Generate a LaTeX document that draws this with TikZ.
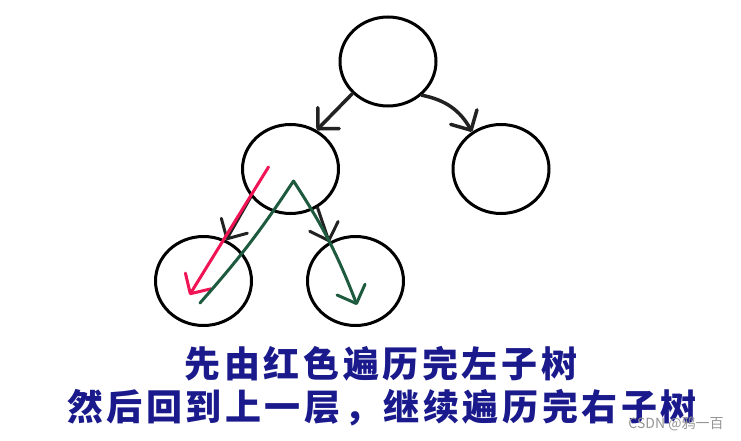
\documentclass[tikz,border=0pt]{standalone}
\usepackage{fontspec}
\newfontfamily\cjk{Noto Sans CJK SC}
\usetikzlibrary{shapes.geometric,arrows.meta,calc}
\definecolor{txtblue}{RGB}{26,26,140}
\definecolor{redpen}{RGB}{240,20,85}
\definecolor{greenpen}{RGB}{30,90,62}
\definecolor{blackpen}{RGB}{34,34,34}
\definecolor{wmgrey}{RGB}{150,150,150}
\begin{document}
\begin{tikzpicture}[x=1pt,y=-1pt,
  treenode/.style={ellipse, draw=black, line width=3pt, minimum width=96pt, minimum height=89pt, inner sep=0pt},
  pen/.style={line width=3pt, line cap=round, line join=round},
  barb/.style={-{Straight Barb[length=15pt,width=30pt,line cap=round,line join=round]}},
  caption/.style={font=\cjk\bfseries\fontsize{36}{42}\selectfont\addfontfeatures{LetterSpace=10}, text=txtblue, inner sep=0pt},
  watermark/.style={font=\cjk\fontsize{14}{16}\selectfont, text=wmgrey, inner sep=0pt}
]
\fill[white] (0,0) rectangle (741,441);
\useasboundingbox (0,0) rectangle (741,441);

\node[treenode] (root) at (388,61.5) {};
\node[treenode] (lc) at (290.5,169) {};
\node[treenode] (rc) at (501,169) {};
\node[treenode] (ll) at (203.5,281) {};
\node[treenode] (lr) at (355.5,281) {};

% black arrows
\draw[pen, blackpen, line width=3.5pt, barb] (root.222) -- (lc.56);
\draw[pen, blackpen, line width=3.5pt, barb] (root.-45) to[bend left=25] (rc.128);
\draw[pen, blackpen, barb] (lc.215) -- (ll.61);
\draw[pen, blackpen, barb] (lc.-55) -- (lr.124);

% red arrow
\coordinate (redstart) at ($(lc)+(-22,-2)$);
\coordinate (redtip) at ($(ll)+(-14,14)$);
\draw[pen, redpen, barb] (redstart) -- (redtip);

% green path
\coordinate (gstart) at ($(ll)+(-3.5,22)$);
\coordinate (gpeak) at ($(lc)+(3,12)$);
\coordinate (gend) at ($(lr)+(1.5,24)$);
\draw[pen, greenpen, barb] (gstart) to[bend right=4] (gpeak) to[bend left=6] (gend);

% captions
\node[caption] (line1) at (381,364) {先由红色遍历完左子树};
\node[caption] (line2) at (382,408) {然后回到上一层，继续遍历完右子树};
\node[watermark] (wm) at (676,424) {CSDN @鸦一百};
\end{tikzpicture}
\end{document}
